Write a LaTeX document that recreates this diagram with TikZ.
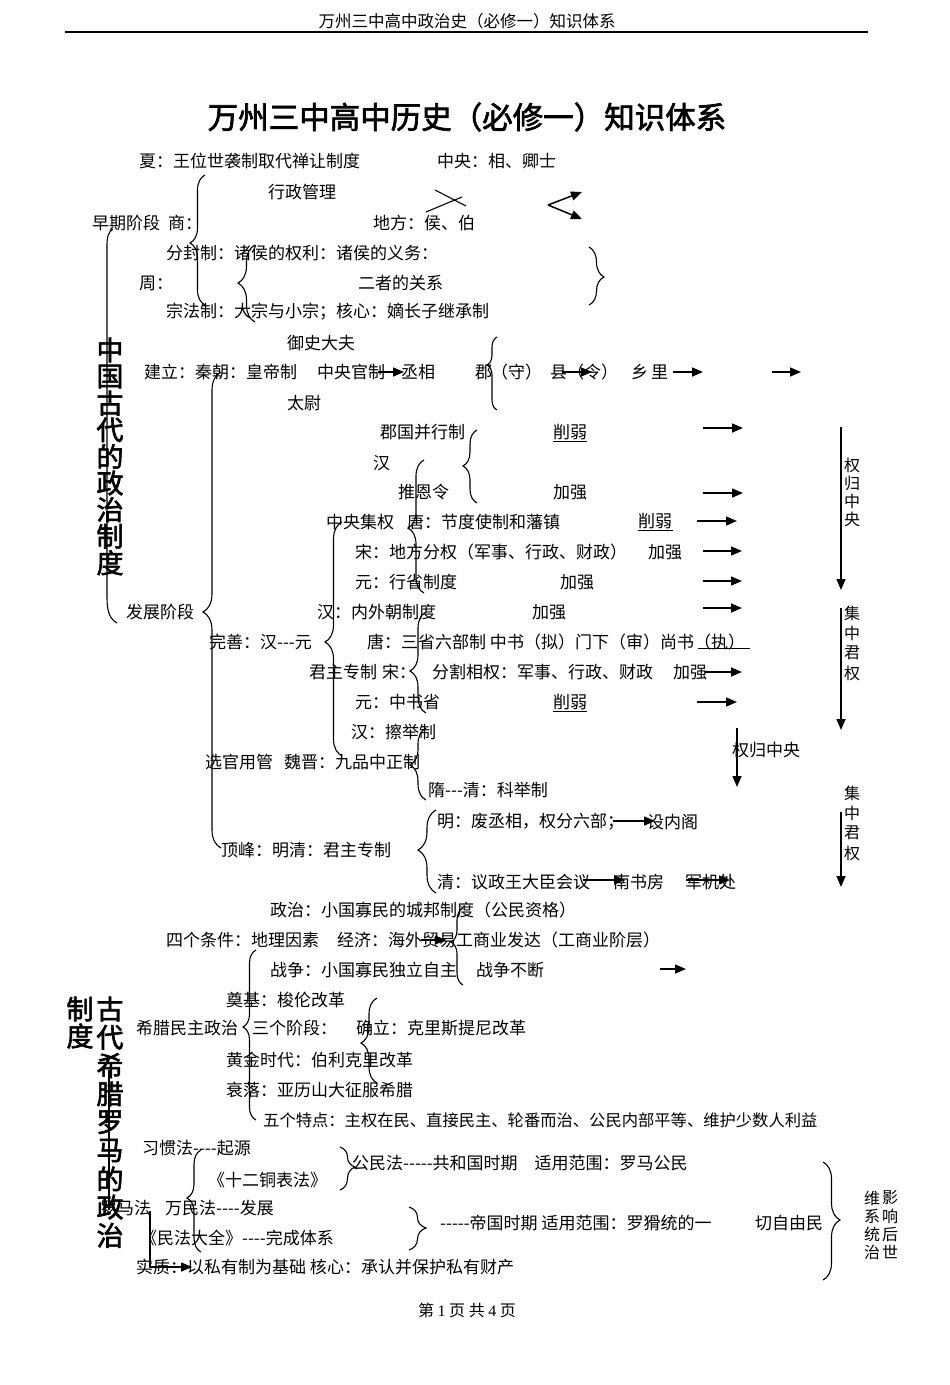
\documentclass[tikz,border=0pt]{standalone}
\usepackage{fontspec}
\setmainfont{Noto Sans CJK SC}
\newfontfamily\boldcjk{Noto Sans CJK SC}[FakeBold=2.2]
\newfontfamily\libser{Liberation Serif}
\usetikzlibrary{arrows.meta,decorations.pathreplacing}
\newcommand\hy{-\kern0pt}
\tikzset{
 txt/.style={anchor=west, inner sep=0pt, font=\fontsize{17}{19}\selectfont},
 arr/.style={line width=1.5pt, -{Triangle[length=11pt,width=9pt]}},
 brc/.style={line width=1.1pt, decorate},
 ln/.style={line width=1.1pt},
 ul/.style={line width=0.8pt},
 vt/.style={inner sep=0pt, font=\fontsize{16}{16}\selectfont},
 bigv/.style={inner sep=0pt, font=\boldcjk\fontsize{27}{27}\selectfont},
}
% left brace: x of ends, top, bottom, tip y, amplitude
\newcommand\mylb[5]{%
 \pgfmathsetmacro\myasp{(#3-#4)/(#3-#2)}%
 \draw[brc, decoration={brace, amplitude=#5pt, aspect=\myasp}] (#1,#3) -- (#1,#2);}
% right brace
\newcommand\myrb[5]{%
 \pgfmathsetmacro\myasp{(#4-#2)/(#3-#2)}%
 \draw[brc, decoration={brace, amplitude=#5pt, aspect=\myasp}] (#1,#2) -- (#1,#3);}
% vertical text: name, x, first centre y, pitch, style, chars
\newcommand\vtext[6]{%
 \foreach \c [count=\i] in {#6} {\node[#5] (#1\i) at (#2, {#3+(\i-1)*#4}) {\c};}}
\begin{document}
\begin{tikzpicture}[x=1pt,y=-1pt]
\fill[white] (0,0) rectangle (950,1385);
\useasboundingbox (0,0) rectangle (950,1385);

% header
\node[inner sep=0pt, font=\fontsize{16.5}{17}\selectfont] (hdr) at (467,21) {万州三中高中政治史（必修一）知识体系};
\draw[line width=1.6pt] (65,32) -- (868,32);
\node[inner sep=0pt, font=\boldcjk\fontsize{30.5}{31}\selectfont] (title) at (467,117) {万州三中高中历史（必修一）知识体系};

% ---------- early period ----------
\node[txt] (xia) at (139,161) {夏：王位世袭制取代禅让制度};
\node[txt] (zy) at (437,161) {中央：相、卿士};
\node[txt] (xzgl) at (268,192) {行政管理};
\node[txt] (zqjd) at (92,223) {早期阶段};
\node[txt] (shang) at (168,223) {商：};
\node[txt] (df) at (373,223) {地方：侯、伯};
\node[txt] (ffz) at (166,253) {分封制：诸侯的权利：诸侯的义务：};
\node[txt] (zhou) at (139,283) {周：};
\node[txt] (ezgx) at (358,283) {二者的关系};
\node[txt] (zfz) at (166,312) {宗法制：大宗与小宗；核心：嫡长子继承制};

\draw[ln] (435,190) -- (466,206);
\draw[ln] (426,212) -- (462,197);
\draw[arr] (548,205) -- (582,192);
\draw[arr] (548,205) -- (582,219);

\mylb{205}{175}{305}{243}{15}
\mylb{255}{245}{322}{283}{17}
\myrb{589}{247}{305}{277}{15}

% ---------- Qin ----------
\node[txt] (ysdf) at (287,343) {御史大夫};
\node[txt] (jl) at (144,372) {建立：秦朝：皇帝制};
\node[txt] (zygz) at (317,372) {中央官制};
\node[txt] (cx) at (401,372) {丞相};
\node[txt] (jun) at (475,372) {郡};
\node[txt] (shou) at (491,372) {（守）};
\node[txt] (xian) at (550,372) {县（令）};
\node[txt] (xiang) at (631,372) {乡};
\node[txt] (li) at (651,372) {里};
\node[txt] (tw) at (287,403) {太尉};
\draw[arr] (378,372) -- (404,372);
\draw[arr] (562,372) -- (592,372);
\draw[arr] (673,372) -- (703,372);
\draw[arr] (772,372) -- (801,372);
\mylb{497}{337}{410}{365}{10}

% ---------- Han ... ----------
\node[txt] (jgbx) at (380,432) {郡国并行制};
\node[txt] (xr1) at (553,432) {削弱};
\draw[ul] (553,441) -- (587,441);
\node[txt] (han1) at (373,463) {汉};
\node[txt] (teling) at (398,492) {推恩令};
\node[txt] (jq1) at (553,492) {加强};
\mylb{477}{430}{503}{466}{14}
\draw[arr] (703,428) -- (743,428);
\draw[arr] (703,493) -- (743,493);

\node[txt] (zyjq) at (326,522) {中央集权};
\node[txt] (tang1) at (407,522) {唐：节度使制和藩镇};
\node[txt] (xr2) at (638,521) {削弱};
\draw[ul] (638,530) -- (673,530);
\draw[arr] (697,521) -- (737,521);
\node[txt] (song1) at (355,552) {宋：地方分权（军事、行政、财政）};
\node[txt] (jq2) at (648,552) {加强};
\draw[arr] (703,551) -- (742,551);
\node[txt] (yuan1) at (355,582) {元：行省制度};
\node[txt] (jq3) at (560,582) {加强};
\draw[arr] (703,581) -- (742,581);
\node[txt] (fzjd) at (126,612) {发展阶段};
\node[txt] (han2) at (317,612) {汉：内外朝制度};
\node[txt] (jq4) at (532,612) {加强};
\draw[arr] (703,608) -- (742,608);
\node[txt] (ws) at (209,642) {完善：汉\hy\hy\hy{}元};
\node[txt] (tang2) at (367,642) {唐：三省六部制 中书（拟）门下（审）尚书（执）};
\draw[ul] (698,648) -- (750,648);
\node[txt] (jzzz) at (309,672) {君主专制};
\node[txt] (song2) at (382,672) {宋：};
\node[txt] (fgxq) at (432,672) {分割相权：军事、行政、财政};
\node[txt] (jq5) at (673,672) {加强};
\draw[arr] (705,672) -- (742,672);
\node[txt] (yuan2) at (355,702) {元：中书省};
\node[txt] (xr3) at (553,702) {削弱};
\draw[ul] (553,711) -- (587,711);
\draw[arr] (697,702) -- (737,702);
\node[txt] (han3) at (351,732) {汉：擦举制};
\node[txt] (xgyg) at (205,762) {选官用管};
\node[txt] (wj) at (284,762) {魏晋：九品中正制};
\node[txt] (sui) at (428,790) {隋\hy\hy\hy{}清：科举制};
\node[txt] (ming) at (437,822) {明：废丞相，权分六部；};
\node[txt] (snj) at (647,822) {设内阁};
\draw[arr] (613,821) -- (655,821);
\node[txt] (df2) at (221,850) {顶峰：明清：君主专制};
\node[txt] (qing) at (437,882) {清：议政王大臣会议};
\node[txt] (nsf) at (613,882) {南书房};
\node[txt] (jjc) at (685,882) {军机处};
\draw[arr] (583,880) -- (625,880);
\draw[arr] (686,880) -- (730,880);

% braces of development
\mylb{221}{372}{848}{612}{18}
\mylb{342}{522}{756}{642}{17}
\mylb{424}{460}{593}{528}{16}
\mylb{426}{612}{713}{671}{16}
\mylb{426}{728}{800}{765}{16}
\mylb{436}{810}{893}{850}{18}

% right vertical arrows and labels
\draw[arr] (841,427) -- (841,590);
\draw[arr] (841,608) -- (841,730);
\draw[arr] (841,812) -- (841,887);
\draw[arr] (737,728) -- (737,787);
\vtext{qgzy}{852}{465}{18.3}{vt}{权,归,中,央}
\vtext{jzjq}{852}{613}{20}{vt}{集,中,君,权}
\vtext{jzjqb}{852}{793}{20}{vt}{集,中,君,权}
\node[txt] (qgzyh) at (732,750) {权归中央};

% big left line and vertical title
\draw[ln] (113,229) .. controls (108,232) and (107,237) .. (107,246) -- (107,598) .. controls (107,612) and (110,619) .. (117,623);
\vtext{zg}{110}{350}{26.6}{bigv}{中,国,古,代,的,政,治,制,度}

% ---------- Greece ----------
\node[txt] (zz) at (270,910) {政治：小国寡民的城邦制度（公民资格）};
\node[txt] (sgtj) at (166,940) {四个条件：地理因素};
\node[txt] (jj) at (337,940) {经济：海外贸易工商业发达（工商业阶层）};
\draw[arr] (421,940) -- (446,940);
\node[txt] (zhanzheng) at (270,970) {战争：小国寡民独立自主};
\node[txt] (zzbd) at (476,970) {战争不断};
\draw[arr] (660,969) -- (686,969);
\mylb{463}{908}{985}{942}{12}
\node[txt] (dj) at (226,1000) {奠基：梭伦改革};
\node[txt] (xlmz) at (136,1028) {希腊民主政治};
\node[txt] (sgjd) at (252,1028) {三个阶段：};
\node[txt] (ql) at (356,1028) {确立：克里斯提尼改革};
\node[txt] (hjsd) at (226,1060) {黄金时代：伯利克里改革};
\node[txt] (sl) at (226,1090) {衰落：亚历山大征服希腊};
\node[txt, font=\fontsize{16.3}{18}\selectfont] (wgtd) at (263,1120) {五个特点：主权在民、直接民主、轮番而治、公民内部平等、维护少数人利益};
\mylb{256}{950}{1120}{1027}{13}
\mylb{377}{998}{1083}{1043}{16}

% ---------- Rome ----------
\node[txt] (xgf) at (142,1148) {习惯法\hy\hy\hy\hy{}起源};
\node[txt] (sett) at (208,1180) {《十二铜表法》};
\node[txt] (gmf) at (352,1163) {公民法\hy\hy\hy\hy\hy{}共和国时期　适用范围：罗马公民};
\node[txt] (lmf) at (100,1208) {罗马法};
\node[txt] (wmf) at (165,1208) {万民法\hy\hy\hy\hy{}发展};
\node[txt] (mfdq) at (140,1238) {《民法大全》\hy\hy\hy\hy{}完成体系};
\node[txt] (dgsq) at (440,1223) {\hy\hy\hy\hy\hy{}帝国时期 适用范围：罗猾统的一};
\node[txt] (qzym) at (755,1223) {切自由民};
\node[txt] (sz) at (136,1267) {实质：以私有制为基础 核心：承认并保护私有财产};
\mylb{201}{1150}{1252}{1198}{14}
\myrb{340}{1147}{1190}{1167}{15}
\myrb{409}{1207}{1250}{1228}{17}
\myrb{823}{1162}{1280}{1220}{17}
\vtext{wxtz}{872}{1198}{18}{vt}{维,系,统,治}
\vtext{yxhs}{890}{1198}{18}{vt}{影,响,后,世}
\draw[ln] (109,1070) -- (109,1210);
\draw[arr] (150,1211) -- (150,1267) -- (192,1267);

\vtext{gd}{110}{1009}{28.3}{bigv}{古,代,希,腊,罗,马,的,政,治}
\vtext{zd}{80}{1009}{27}{bigv}{制,度}

% footer
\node[inner sep=0pt, font=\fontsize{16}{16}\selectfont] (foot) at (467,1310) {第 {\libser 1} 页 共 {\libser 4} 页};
\end{tikzpicture}
\end{document}
